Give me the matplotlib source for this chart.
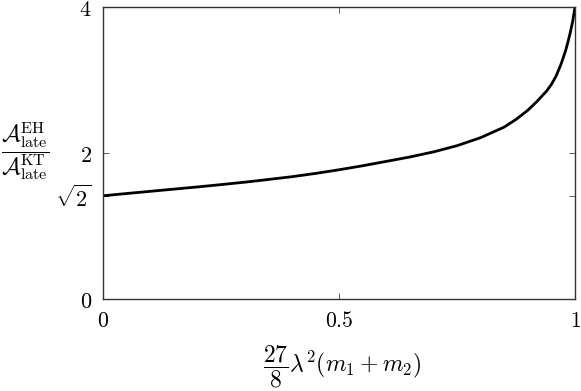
import numpy as np
import matplotlib
matplotlib.use("Agg")
import matplotlib.pyplot as plt

plt.rcParams['mathtext.fontset'] = 'cm'
plt.rcParams['font.family'] = 'serif'

x_vals = [0, .05, .1, .15, .2, .25, .3, .35, .4, .45, .5, .55, .6, .65, .7, .75, .8, .85,
          .875, .9, .92, .94, .95, .96, .97, .98, .985, .99, .995, 1.0]
y_vals = [1.414, 1.445, 1.475, 1.505, 1.535, 1.567, 1.60, 1.637, 1.675, 1.72, 1.77, 1.825,
          1.885, 1.945, 2.015, 2.10, 2.21, 2.355, 2.46, 2.585, 2.71, 2.85, 2.94, 3.055, 3.21,
          3.40, 3.52, 3.65, 3.80, 4.0]

xticks = [0, 0.5, 1]
xticklabels = [r'$0$', r'$0.5$', r'$1$']
yticks = [0, np.sqrt(2), 2, 4]
yticklabels = [r'$0$', r'$\sqrt{2}$', r'$2$', r'$4$']

fig = plt.figure(figsize=(5.81, 3.91), dpi=100)
ax = fig.add_axes([103/581, 1 - 299/391, (575-103)/581, (299-7)/391])
ax.plot(x_vals, y_vals, color='black', lw=2.0, solid_joinstyle='round')
ax.set_xlim(0, 1)
ax.set_ylim(0, 4)
ax.set_xticks(xticks)
ax.set_xticklabels(xticklabels, fontsize=15.5)
ax.set_yticks(yticks)
ax.set_yticklabels(yticklabels, fontsize=16)
ax.tick_params(direction='in', top=True, right=True, length=4, width=0.6, color='#444444', pad=8)
for s in ax.spines.values():
    s.set_color('#333333')
    s.set_linewidth(1.0)
fig.text(342/581, 1 - 367/391, r'$\dfrac{27}{8}\lambda^2(m_1+m_2)$', fontsize=17,
         ha='center', va='center')
fig.text(25/581, 1 - 152/391, r'$\dfrac{\mathcal{A}^{\rm EH}_{\rm late}}{\mathcal{A}^{\rm KT}_{\rm late}}$',
         fontsize=16.5, ha='center', va='center')
fig.savefig('out.png', dpi=100)
